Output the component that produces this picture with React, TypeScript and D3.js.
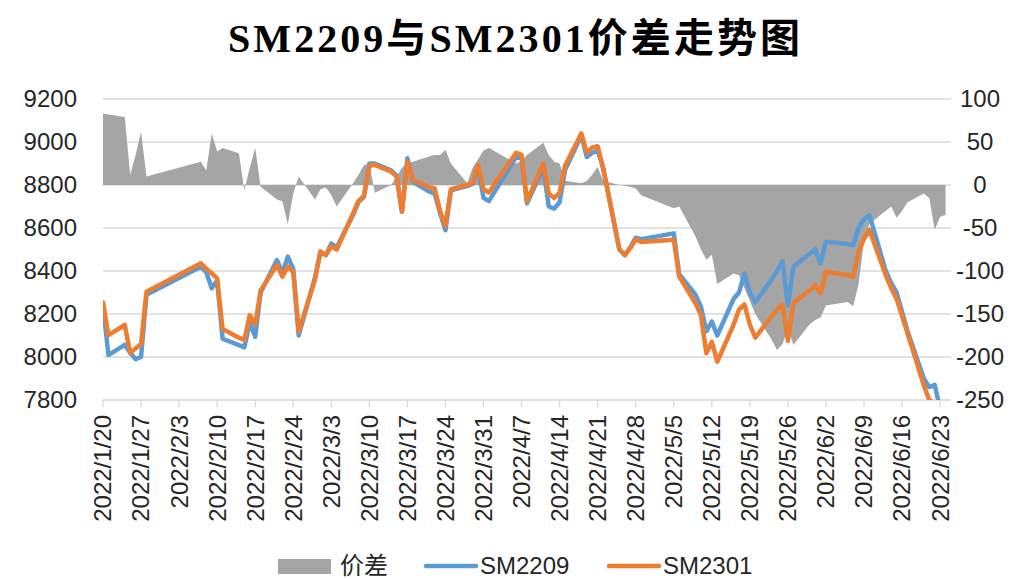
import React from "react";
import * as d3 from "d3";

const width = 1028;
const height = 579;
const plot = { left: 103, right: 951, top: 99, bottom: 400 };

// trading days (holidays are skipped, so the lines jump straight across them)
const dates = [
  "2022/1/20", "2022/1/21", "2022/1/24", "2022/1/25", "2022/1/26", "2022/1/27", "2022/1/28",
  "2022/2/7", "2022/2/8", "2022/2/9", "2022/2/10", "2022/2/11", "2022/2/14", "2022/2/15", "2022/2/16",
  "2022/2/17", "2022/2/18", "2022/2/21", "2022/2/22", "2022/2/23", "2022/2/24", "2022/2/25", "2022/2/28",
  "2022/3/1", "2022/3/2", "2022/3/3", "2022/3/4", "2022/3/7", "2022/3/8", "2022/3/9", "2022/3/10",
  "2022/3/11", "2022/3/14", "2022/3/15", "2022/3/16", "2022/3/17", "2022/3/18", "2022/3/21", "2022/3/22",
  "2022/3/23", "2022/3/24", "2022/3/25", "2022/3/28", "2022/3/29", "2022/3/30", "2022/3/31",
  "2022/4/1", "2022/4/6", "2022/4/7", "2022/4/8", "2022/4/11", "2022/4/12", "2022/4/13", "2022/4/14",
  "2022/4/15", "2022/4/18", "2022/4/19", "2022/4/20", "2022/4/21", "2022/4/22", "2022/4/25", "2022/4/26",
  "2022/4/27", "2022/4/28", "2022/4/29",
  "2022/5/5", "2022/5/6", "2022/5/9", "2022/5/10", "2022/5/11", "2022/5/12", "2022/5/13", "2022/5/16",
  "2022/5/17", "2022/5/18", "2022/5/19", "2022/5/20", "2022/5/23", "2022/5/24", "2022/5/25", "2022/5/26",
  "2022/5/27", "2022/5/30", "2022/5/31",
  "2022/6/1", "2022/6/2", "2022/6/6", "2022/6/7", "2022/6/8", "2022/6/9", "2022/6/10", "2022/6/13",
  "2022/6/14", "2022/6/15", "2022/6/16", "2022/6/17", "2022/6/20", "2022/6/21", "2022/6/22", "2022/6/23",
  "2022/6/24",
];

const sm2209 = [
  8240, 8009, 8056, 8020, 7990, 8000, 8290,
  8420, 8395, 8320, 8355, 8085, 8055, 8045, 8160, 8094, 8300, 8451, 8390, 8467, 8410, 8100, 8370,
  8490, 8474, 8528, 8510, 8660, 8720, 8745, 8900, 8900, 8868, 8845, 8676, 8924, 8815, 8770, 8760,
  8670, 8590, 8775, 8795, 8805, 8880, 8740,
  8725, 8930, 8925, 8715, 8880, 8700, 8690, 8720, 8870, 9030, 8930, 8950, 8960, 8880, 8500, 8474,
  8510, 8555, 8548,
  8575, 8385, 8290, 8234, 8120, 8165, 8100, 8270, 8300, 8389, 8300, 8255, 8360, 8400, 8445, 8240,
  8420, 8480, 8500,
  8436, 8536, 8525, 8521, 8600, 8640, 8660, 8400, 8343, 8300, 8210, 8120, 7900, 7860, 7870, 7760,
  null,
];

const sm2301 = [
  8255, 8102, 8149, 8020, 8040, 8060, 8304,
  8436, 8410, 8390, 8366, 8130, 8090, 8079, 8195, 8150, 8310, 8428, 8374, 8420, 8395, 8118, 8360,
  8490, 8474, 8515, 8500, 8668, 8725, 8750, 8890, 8893, 8862, 8840, 8676, 8910, 8823, 8790, 8785,
  8680, 8610, 8780, 8800, 8810, 8893, 8780,
  8765, 8950, 8940, 8725, 8900, 8760, 8740, 8765, 8890, 9040, 8950, 8975, 8980, 8880, 8500, 8474,
  8506, 8547, 8535,
  8545, 8374, 8250, 8195, 8017, 8071, 7978, 8150, 8220, 8245, 8150, 8090, 8190, 8219, 8243, 8075,
  8250, 8310, 8335,
  8296, 8397, 8380, 8374, 8490, 8550, 8591, 8380, 8320, 8270, 8190, 8110, 7868, 7800, 7785, 7760,
  null,
];

const spread = [
  83, 82, 79, 12, 35, 62, 10,
  27, 17, 60, 39, 43, 37, -6, 20, 43, -2, -17, -19, -46, -10, 10, -17,
  -5, -3, -12, -25, 2, 12, 23, 25, -9, 0, 10, 20, 25, 27, 33, 35, 35, 41, 25, 2, 20, 30, 40,
  43, 25, 28, 35, 49, 35, 27, 25, 5, 2, 5, 12, 21, 5, 0, -1, -2, -4, -12,
  -27, -25, -60, -75, -87, -81, -115, -103, -105, -120, -135, -150, -180, -192, -185, -166, -186, -162, -157,
  -154, -140, -136, -141, -115, -65, -45, -30, -25, -38, -30, -20, -10, -15, -52, -37, -35,
];

const leftTicks = [7800, 8000, 8200, 8400, 8600, 8800, 9000, 9200];
const rightTicks = [-250, -200, -150, -100, -50, 0, 50, 100];
const xTickLabels = [
  "2022/1/20", "2022/1/27", "2022/2/3", "2022/2/10", "2022/2/17", "2022/2/24", "2022/3/3",
  "2022/3/10", "2022/3/17", "2022/3/24", "2022/3/31", "2022/4/7", "2022/4/14", "2022/4/21",
  "2022/4/28", "2022/5/5", "2022/5/12", "2022/5/19", "2022/5/26", "2022/6/2", "2022/6/9",
  "2022/6/16", "2022/6/23",
];

const parseDate = (s: string) => {
  const [y, m, d] = s.split("/").map(Number);
  return new Date(y, m - 1, d);
};

const labelFont = "'Liberation Sans', Arial, sans-serif";
const cjkFont = "'Liberation Sans', 'Noto Sans CJK SC', sans-serif";
const labelColor = "#262626";

export default function App() {
  const x = d3
    .scaleTime()
    .domain([parseDate("2022/1/20"), parseDate("2022/6/25")])
    .range([plot.left, plot.right]);
  const yLeft = d3.scaleLinear().domain([7800, 9200]).range([plot.bottom, plot.top]);
  const yRight = d3.scaleLinear().domain([-250, 100]).range([plot.bottom, plot.top]);

  const rows = dates.map((d, i) => ({
    date: parseDate(d),
    a: sm2209[i],
    b: sm2301[i],
    s: spread[i],
  }));

  const area = d3
    .area<any>()
    .x((d) => x(d.date))
    .y0(yRight(0))
    .y1((d) => yRight(d.s));

  const lineA = d3
    .line<any>()
    .defined((d) => d.a != null)
    .x((d) => x(d.date))
    .y((d) => yLeft(d.a));

  const lineB = d3
    .line<any>()
    .defined((d) => d.b != null)
    .x((d) => x(d.date))
    .y((d) => yLeft(d.b));

  return (
    <svg
      width={width}
      height={height}
      style={{ position: "absolute", left: 0, top: 0, background: "#fff" }}
    >
      <defs>
        <clipPath id="plotClip">
          <rect x={plot.left} y={plot.top - 5} width={plot.right - plot.left} height={plot.bottom - plot.top + 5} />
        </clipPath>
      </defs>

      <text
        x={514}
        y={52}
        textAnchor="middle"
        fontFamily="'Liberation Serif', 'Noto Sans CJK SC', serif"
        fontWeight="bold"
        fontSize={40}
        textLength={572}
        lengthAdjust="spacing"
        fill="#000"
      >
        SM2209与SM2301价差走势图
      </text>

      {/* gridlines */}
      {leftTicks.map((t) => (
        <line
          key={t}
          x1={plot.left}
          x2={plot.right}
          y1={yLeft(t)}
          y2={yLeft(t)}
          stroke="#d9d9d9"
          strokeWidth={1.3}
        />
      ))}

      {/* x axis ticks */}
      {xTickLabels.map((t) => (
        <line
          key={t}
          x1={x(parseDate(t))}
          x2={x(parseDate(t))}
          y1={plot.bottom}
          y2={plot.bottom + 7}
          stroke="#d9d9d9"
          strokeWidth={1.3}
        />
      ))}

      <path d={area(rows) || ""} fill="#a5a5a5" />

      <g clipPath="url(#plotClip)">
        <path d={lineA(rows) || ""} fill="none" stroke="#5b9bd5" strokeWidth={4.5} strokeLinejoin="round" strokeLinecap="round" />
        <path d={lineB(rows) || ""} fill="none" stroke="#ed7d31" strokeWidth={4.5} strokeLinejoin="round" strokeLinecap="round" />
      </g>

      {/* left axis labels */}
      {leftTicks.map((t) => (
        <text
          key={t}
          x={77}
          y={yLeft(t)}
          dy="0.35em"
          textAnchor="end"
          fontFamily={labelFont}
          fontSize={24}
          fill={labelColor}
        >
          {t}
        </text>
      ))}

      {/* right axis labels */}
      {rightTicks.map((t) => (
        <text
          key={t}
          x={980}
          y={yRight(t)}
          dy="0.35em"
          textAnchor="middle"
          fontFamily={labelFont}
          fontSize={24}
          fill={labelColor}
        >
          {t}
        </text>
      ))}

      {/* x labels */}
      {xTickLabels.map((t) => (
        <text
          key={t}
          transform={`translate(${x(parseDate(t))},${plot.bottom + 15}) rotate(-90)`}
          dy="0.35em"
          textAnchor="end"
          fontFamily={labelFont}
          fontSize={24}
          fill={labelColor}
        >
          {t}
        </text>
      ))}

      {/* legend */}
      <rect x={278} y={559} width={53} height={15} fill="#a5a5a5" />
      <text x={340} y={574} fontFamily={cjkFont} fontSize={24} fill={labelColor}>
        价差
      </text>
      <line x1={426} x2={476} y1={566} y2={566} stroke="#5b9bd5" strokeWidth={4.5} strokeLinecap="round" />
      <text x={480} y={574} fontFamily={labelFont} fontSize={24} fill={labelColor}>
        SM2209
      </text>
      <line x1={609} x2={659} y1={566} y2={566} stroke="#ed7d31" strokeWidth={4.5} strokeLinecap="round" />
      <text x={663} y={574} fontFamily={labelFont} fontSize={24} fill={labelColor}>
        SM2301
      </text>
    </svg>
  );
}
